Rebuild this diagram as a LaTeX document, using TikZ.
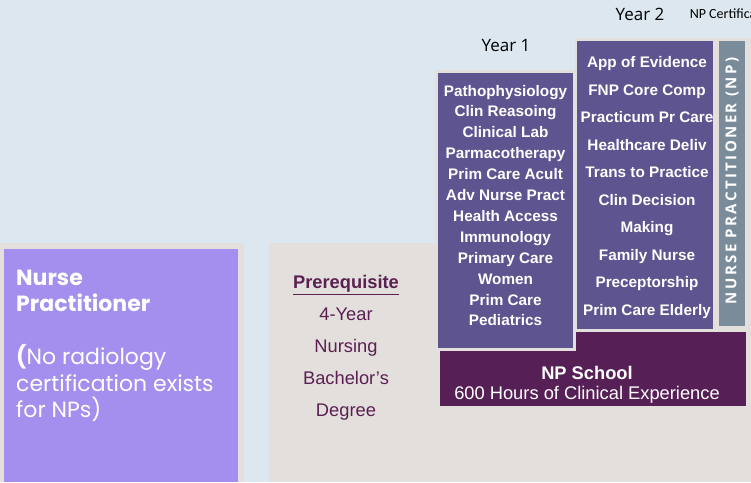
\documentclass[tikz,border=0pt]{standalone}
\usepackage{fontspec}
\setmainfont{Liberation Sans}
\newfontfamily\popfont{Poppins}
\newfontfamily\spacedfont[LetterSpace=16]{Open Sans}
\newfontfamily\yearfont{Open Sans}
\newfontfamily\certfont{Carlito}
\usepackage{tikz}
\usetikzlibrary{positioning}
\definecolor{skyback}{HTML}{DCE7EF}
\definecolor{boxgray}{HTML}{E3DFDD}
\definecolor{lilac}{HTML}{A48FEE}
\definecolor{coursepurple}{HTML}{5E5490}
\definecolor{plum}{HTML}{561F55}
\definecolor{slate}{HTML}{7A8B99}
\definecolor{prereqtext}{HTML}{5A2050}
\tikzset{%
  frame box/.style={fill=boxgray},
  course box/.style={fill=coursepurple},
  course list/.style={
    text=white,
    align=center,
    inner sep=0pt,
    font=\bfseries\fontsize{15.3}{21}\selectfont
  },
  year label/.style={
    inner sep=0pt,
    font=\yearfont\fontsize{17}{18}\selectfont
  },
}

\begin{document}
\begin{tikzpicture}[x=1pt, y=-1pt]
\useasboundingbox (0,0) rectangle (751,482);
\fill[skyback] (0,0) rectangle (751,482);
% left column
\fill[frame box] (0,243) rectangle (244,482);
\fill[lilac] (4,249) rectangle (238,482);
\node[anchor=west, align=left, text=white, inner sep=0pt,
      font=\popfont\bfseries\fontsize{22}{26}\selectfont] (np title) at (16,291)
      {Nurse\\Practitioner};
\node[anchor=west, align=left, text=white, inner sep=0pt,
      font=\popfont\fontsize{22}{26.5}\selectfont] (np note) at (16,383)
      {{\bfseries(}No radiology\\certification exists\\for NPs)};
% prerequisite
\fill[frame box] (269,243) rectangle (751,482);
\node[align=center, text=prereqtext, inner sep=0pt,
      font=\fontsize{18.3}{32}\selectfont] (prereq) at (346,348)
      {\textbf{\underline{Prerequisite}}\\4-Year\\Nursing\\Bachelor's\\Degree};
% np school
\fill[plum] (440,332) rectangle (746,406);
\node[align=center, text=white, inner sep=0pt,
      font=\fontsize{18.3}{20.5}\selectfont] (np school) at (587,385)
      {\textbf{NP School}\\600 Hours of Clinical Experience};
% year 2
\fill[frame box] (575,38) rectangle (751,332);
\fill[course box] (577,41) rectangle (713,329);
\fill[slate] (719,41) rectangle (745,326);
\node[course list, font=\bfseries\fontsize{15.3}{27.55}\selectfont] (year2 list) at (647,187.5)
  {App of Evidence\\FNP Core Comp\\Practicum Pr Care\\Healthcare Deliv\\Trans to Practice\\
   Clin Decision\\Making\\Family Nurse\\Preceptorship\\Prim Care Elderly};
\node[rotate=90, text=white, inner sep=0pt,
      font=\spacedfont\bfseries\fontsize{15}{17}\selectfont] (np band) at (732,181)
  {NURSE PRACTITIONER (NP)};
% year 1
\fill[frame box] (435,70) rectangle (576,351);
\fill[course box] (438,73) rectangle (573,348);
\node[course list, font=\bfseries\fontsize{15.3}{20.9}\selectfont] (year1 list) at (505.5,205.5)
  {Pathophysiology\\Clin Reasoing\\Clinical Lab\\Parmacotherapy\\Prim Care Acult\\
   Adv Nurse Pract\\Health Access\\Immunology\\Primary Care\\Women\\Prim Care\\Pediatrics};
% year labels
\node[year label] (year1) at (506,46) {Year 1};
\node[year label] (year2) at (640,14) {Year 2};
\node[right=25pt of year2, inner sep=0pt,
      font=\certfont\fontsize{14}{16}\selectfont] (cert) {NP Certification};
\end{tikzpicture}
\end{document}
